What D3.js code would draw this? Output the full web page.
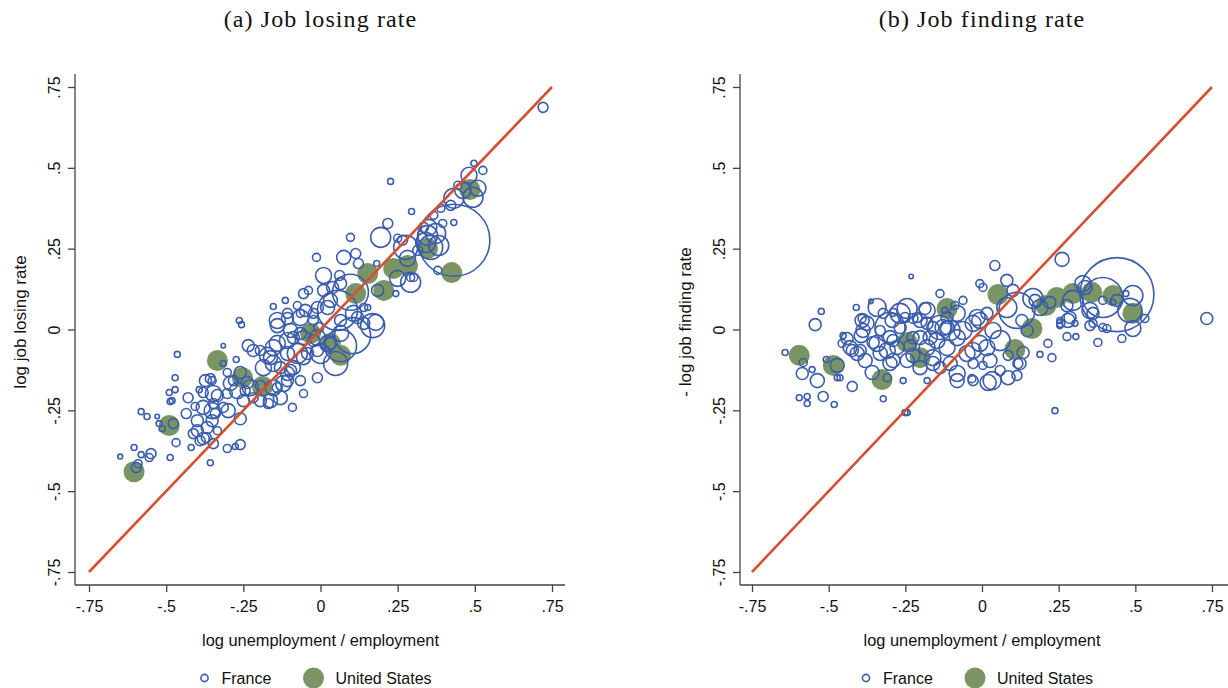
<!DOCTYPE html>
<html>
<head>
<meta charset="utf-8">
<script src="https://cdn.jsdelivr.net/npm/d3@7"></script>
<style>
body { margin: 0; background: #fff; }
text { font-family: "Liberation Sans", Arial, sans-serif; fill: #111; }
.title { font-family: "Liberation Serif", "Times New Roman", serif; }
</style>
</head>
<body>
<div id="chart"></div>
<script>
/* Job losing / job finding rates against log unemployment / employment
   France (hollow, sized by weight) and United States (filled) */

var width = 1228
var height = 688

var ticks = [-0.75, -0.5, -0.25, 0, 0.25, 0.5, 0.75]
var panelTitles = ["(a) Job losing rate", "(b) Job finding rate"]
var yTitles = ["log job losing rate", "- log job finding rate"]
var xTitle = "log unemployment / employment"
var legendLabels = ["France", "United States"]

// France: [log u/e, log job losing rate, weight]
var franceLose = [
  [-0.649,-0.393,6],[-0.604,-0.365,9],[-0.581,-0.387,9],[-0.549,-0.384,25],[-0.555,-0.396,16],
  [-0.591,-0.415,16],[-0.597,-0.427,25],[-0.487,-0.396,9],[-0.581,-0.254,9],[-0.562,-0.269,9],
  [-0.529,-0.269,5],[-0.523,-0.291,9],[-0.513,-0.307,9],[-0.477,-0.291,25],[-0.468,-0.350,16],
  [-0.419,-0.365,9],[-0.357,-0.412,9],[-0.302,-0.368,16],[-0.276,-0.362,9],[-0.260,-0.356,25],
  [-0.487,-0.223,9],[-0.490,-0.195,9],[-0.471,-0.186,9],[-0.471,-0.149,9],[-0.464,-0.077,9],
  [-0.429,-0.211,25],[-0.435,-0.260,25],[-0.406,-0.238,16],[-0.399,-0.282,36],[-0.399,-0.313,36],
  [-0.390,-0.344,25],[-0.370,-0.334,25],[-0.367,-0.303,36],[-0.351,-0.282,36],[-0.341,-0.260,25],
  [-0.347,-0.229,25],[-0.334,-0.204,36],[-0.373,-0.158,36],[-0.380,-0.195,25],[-0.393,-0.186,9],
  [-0.351,-0.158,16],[-0.315,-0.050,5],[-0.315,-0.105,9],[-0.273,-0.093,9],[-0.263,0.028,9],
  [-0.256,0.015,9],[-0.302,-0.198,25],[-0.315,-0.241,25],[-0.299,-0.251,49],[-0.260,-0.276,36],
  [-0.334,-0.313,16],[-0.282,-0.158,25],[-0.260,-0.133,36],[-0.237,-0.164,36],[-0.244,-0.189,25],
  [-0.218,-0.211,25],[-0.195,-0.220,36],[-0.169,-0.229,25],[-0.195,-0.173,25],[-0.234,-0.050,36],
  [-0.091,-0.241,16],[-0.195,-0.065,25],[-0.172,-0.080,64],[-0.140,0.012,49],[-0.153,0.071,9],
  [-0.140,-0.043,64],[-0.107,-0.034,64],[-0.097,-0.127,36],[-0.107,-0.158,36],[-0.140,-0.180,25],
  [-0.130,-0.118,36],[-0.153,-0.105,64],[-0.075,-0.074,100],[-0.065,-0.012,36],[-0.023,0.050,25],
  [-0.006,0.006,25],[-0.065,0.050,16],[-0.042,-0.074,36],[-0.010,-0.065,36],[0.023,0.068,49],
  [0.065,0.028,36],[0.107,0.050,64],[0.169,0.012,144],[0.140,0.068,16],[0.049,-0.105,144],
  [0.065,-0.050,256],[0.065,-0.012,64],[0.023,-0.043,64],[-0.023,-0.034,36],[-0.065,-0.158,25],
  [-0.055,-0.198,16],[-0.010,-0.149,25],[-0.481,-0.220,9],[-0.357,-0.152,25],[-0.347,-0.198,64],
  [-0.380,-0.241,49],[-0.351,-0.251,64],[-0.412,-0.322,25],[-0.380,-0.337,36],[-0.347,-0.353,25],
  [-0.302,-0.133,16],[-0.292,-0.167,49],[-0.269,-0.189,64],[-0.227,-0.180,64],[-0.250,-0.220,36],
  [-0.162,-0.220,49],[-0.130,-0.211,49],[-0.153,-0.180,64],[-0.120,-0.167,64],[-0.185,-0.118,64],
  [-0.162,-0.087,49],[-0.218,-0.065,36],[-0.153,-0.056,64],[-0.107,-0.074,49],[-0.055,-0.087,49],
  [-0.088,-0.118,49],[-0.107,-0.136,49],[-0.088,-0.025,36],[-0.055,-0.025,49],[-0.140,0.028,64],
  [-0.107,0.050,25],[-0.075,0.074,16],[-0.065,0.037,64],[0.000,-0.074,100],[-0.010,-0.025,64],
  [0.032,-0.043,36],[-0.114,0.090,9],[0.497,0.514,9],[0.526,0.492,16],[0.481,0.477,64],
  [0.445,0.446,16],[0.461,0.430,64],[0.432,0.406,100],[0.494,0.409,100],[0.422,0.384,25],
  [0.227,0.458,9],[0.295,0.365,9],[0.390,0.375,16],[0.432,0.331,9],[0.396,0.328,16],
  [0.367,0.353,16],[0.351,0.316,64],[0.347,0.291,100],[0.357,0.254,144],[0.383,0.260,100],
  [0.432,0.276,1296],[0.380,0.183,16],[0.218,0.328,25],[0.195,0.285,100],[0.250,0.282,16],
  [0.266,0.276,25],[0.276,0.254,144],[0.282,0.220,64],[0.292,0.161,16],[0.302,0.161,16],
  [0.292,0.146,100],[0.250,0.158,64],[0.244,0.111,9],[0.185,0.121,36],[0.182,0.204,9],
  [0.097,0.285,16],[0.075,0.223,49],[0.114,0.235,25],[0.123,0.204,25],[0.062,0.167,25],
  [0.010,0.167,64],[-0.013,0.223,16],[0.065,0.142,36],[0.097,0.115,324],[0.039,0.130,36],
  [0.010,0.121,36],[-0.039,0.121,16],[-0.055,0.111,25],[-0.049,0.059,36],[-0.010,0.068,36],
  [0.032,0.090,49],[0.055,0.059,400],[0.104,-0.019,324],[0.153,0.068,9],[0.179,0.022,64],
  [0.140,0.019,36],[0.120,0.037,36],[-0.107,0.034,36],[-0.097,-0.003,49],[-0.023,0.028,25],
  [0.721,0.687,25],[0.373,0.297,100],[0.334,0.316,25],[0.341,0.269,100],[0.315,0.245,25],
  [0.510,0.437,64]
]

// United States: [log u/e, log job losing rate]
var usLose = [
  [-0.604,-0.440],[-0.490,-0.297],[-0.334,-0.096],[-0.253,-0.149],[-0.188,-0.176],
  [-0.032,-0.012],[0.032,-0.043],[0.065,-0.080],[0.114,0.111],[0.153,0.173],
  [0.205,0.121],[0.237,0.189],[0.282,0.198],[0.347,0.251],[0.425,0.176],[0.484,0.433]
]

// France: [log u/e, - log job finding rate, weight]
var franceFind = [
  [-0.231,0.164,5],[-0.137,0.111,16],[-0.088,0.074,16],[-0.362,0.087,5],[-0.410,0.068,9],
  [-0.524,0.056,9],[-0.544,0.015,36],[-0.642,-0.071,9],[-0.453,-0.019,9],[-0.456,-0.043,16],
  [-0.391,0.028,49],[-0.394,-0.019,49],[-0.342,0.068,81],[-0.322,0.050,25],[-0.290,0.053,16],
  [-0.244,0.065,100],[-0.251,0.037,25],[-0.267,0.006,36],[-0.186,0.065,36],[-0.179,0.019,36],
  [-0.160,0.006,36],[-0.225,0.034,25],[-0.332,-0.003,25],[-0.355,-0.040,36],[-0.423,-0.065,36],
  [-0.290,-0.034,36],[-0.225,-0.025,36],[-0.235,-0.050,36],[-0.114,0.006,49],[-0.114,0.037,36],
  [-0.583,-0.102,16],[-0.586,-0.136,36],[-0.554,-0.124,9],[-0.537,-0.158,49],[-0.508,-0.093,9],
  [-0.472,-0.111,49],[-0.472,-0.149,9],[-0.463,-0.149,9],[-0.596,-0.211,9],[-0.570,-0.207,9],
  [-0.570,-0.229,9],[-0.518,-0.207,25],[-0.482,-0.232,9],[-0.423,-0.176,25],[-0.440,-0.028,36],
  [-0.388,-0.003,49],[-0.397,-0.065,36],[-0.381,-0.096,49],[-0.358,-0.133,49],[-0.322,-0.214,9],
  [-0.309,-0.149,16],[-0.257,-0.158,9],[-0.251,-0.257,9],[-0.244,-0.257,9],[-0.267,0.050,100],
  [-0.342,-0.043,64],[-0.309,-0.065,64],[-0.277,-0.056,49],[-0.290,-0.096,49],[-0.244,-0.096,49],
  [-0.202,-0.118,49],[-0.179,-0.158,9],[-0.160,-0.105,49],[-0.179,-0.056,64],[-0.147,-0.034,64],
  [-0.114,-0.056,64],[-0.081,-0.025,64],[-0.127,0.006,64],[-0.202,0.028,49],[-0.062,0.090,16],
  [-0.081,-0.136,64],[-0.029,-0.065,64],[-0.029,-0.105,25],[-0.029,-0.158,25],[0.020,-0.164,64],
  [-0.081,-0.158,49],[-0.007,0.028,64],[0.036,-0.003,64],[0.059,-0.034,100],[0.016,-0.056,64],
  [0.059,-0.127,25],[0.085,-0.149,49],[0.114,-0.142,25],[0.117,-0.105,25],[-0.007,0.142,16],
  [0.003,0.130,16],[0.042,0.198,25],[0.081,0.152,36],[0.261,0.217,49],[0.733,0.034,36],
  [0.238,-0.251,9],[-0.300,0.006,225],[-0.179,0.059,64],[-0.121,0.059,9],[-0.137,0.006,144],
  [-0.104,-0.003,100],[-0.062,-0.003,81],[-0.016,0.037,64],[0.016,0.050,36],[0.081,0.068,100],
  [0.114,0.059,324],[0.130,0.028,36],[0.147,-0.003,36],[0.189,0.068,64],[0.173,0.090,36],
  [0.124,-0.105,36],[0.215,-0.043,16],[0.189,-0.077,9],[0.228,-0.087,16],[0.254,0.028,9],
  [0.254,0.012,9],[0.277,-0.022,16],[0.306,-0.022,9],[0.287,0.037,36],[0.303,0.019,9],
  [0.277,0.074,36],[0.296,0.090,100],[0.336,0.130,49],[0.352,0.059,64],[0.362,0.019,16],
  [0.394,0.099,400],[0.440,0.108,1369],[0.394,0.006,16],[0.407,0.003,16],[0.394,0.090,16],
  [0.427,0.084,9],[0.456,-0.028,16],[0.469,0.111,9],[0.492,0.105,100],[0.482,0.059,144],
  [0.492,0.003,64],[0.531,0.034,16],[0.378,-0.040,16],[0.221,0.084,36],[0.101,0.121,36],
  [0.166,0.096,100],[0.329,0.142,64],[0.352,0.012,25],[0.440,0.090,36],[0.257,0.019,16],
  [0.280,0.028,49],[0.134,-0.071,36],[0.085,-0.080,25],[-0.081,0.050,64],[-0.029,0.019,64],
  [-0.007,-0.043,64],[0.026,-0.096,49],[0.003,-0.111,16],[0.033,-0.158,81],[-0.033,-0.152,16],
  [-0.407,-0.074,49],[-0.430,-0.056,49],[-0.375,0.019,49],[-0.391,0.034,16],[-0.300,-0.025,49],
  [-0.332,-0.074,49],[-0.300,-0.105,49],[-0.225,-0.080,49],[-0.160,-0.087,64],[-0.104,-0.105,49],
  [-0.137,-0.118,36],[-0.169,-0.025,49],[-0.202,-0.025,49],[-0.293,0.028,49],[-0.049,-0.074,64],
  [0.362,0.050,36],[-0.212,0.037,25]
]

// United States: [log u/e, - log job finding rate]
var usFind = [
  [-0.596,-0.080],[-0.485,-0.111],[-0.326,-0.155],[-0.244,-0.040],[-0.202,-0.087],
  [-0.114,0.065],[0.052,0.108],[0.107,-0.062],[0.163,0.003],[0.208,0.074],
  [0.244,0.099],[0.296,0.111],[0.358,0.115],[0.427,0.105],[0.492,0.050]
]

var blue = "#3a5dad"
var green = "#7a9464"
var orange = "#d6502f"
var axisColor = "#444"

var svg = d3.select("#chart")
        .append("svg")
        .attr("width", width)
        .attr("height", height)

// circle size from weight
var size = d3.scaleSqrt().domain([0, 1369]).range([0, 37])

var panels = [
    {left: 75, right: 565, x0: 89, x1: 552, france: franceLose, us: usLose},
    {left: 740, right: 1240, x0: 752, x1: 1212, france: franceFind, us: usFind}
]
var top_y = 74, bottom_y = 585

function fmt(d) {
    if (d === 0) return "0"
    return String(d).replace("0.", ".")
}

panels.forEach(function(p, i) {
    var x = d3.scaleLinear().domain([-0.75, 0.75]).range([p.x0, p.x1])
    var y = d3.scaleLinear().domain([-0.75, 0.75]).range([572, 87])
    var mid = (p.x0 + p.x1) / 2

    var g = svg.append("g")

    // panel title
    g.append("text")
        .attr("class", "title")
        .attr("x", mid)
        .attr("y", 27)
        .attr("text-anchor", "middle")
        .style("font-size", "24px")
        .style("letter-spacing", "1.1px")
        .text(panelTitles[i])

    // x axis
    var xa = g.append("g")
        .attr("transform", "translate(0," + bottom_y + ")")
        .call(d3.axisBottom(x).tickValues(ticks).tickFormat(fmt).tickSize(7).tickSizeOuter(0))
    xa.select(".domain").remove()
    xa.selectAll("line").attr("stroke", axisColor).attr("stroke-width", 1.3)
    xa.selectAll("text").attr("y", 27).attr("dy", null).style("font-size", "16px")
    g.append("line")
        .attr("x1", p.left).attr("x2", p.right)
        .attr("y1", bottom_y).attr("y2", bottom_y)
        .attr("stroke", axisColor).attr("stroke-width", 1.3)

    // y axis, labels turned
    var ya = g.append("g")
        .attr("transform", "translate(" + p.left + ",0)")
        .call(d3.axisLeft(y).tickValues(ticks).tickFormat(fmt).tickSize(7).tickSizeOuter(0))
    ya.select(".domain").remove()
    ya.selectAll("line").attr("stroke", axisColor).attr("stroke-width", 1.3)
    ya.selectAll("text")
        .attr("x", null).attr("dy", null)
        .attr("text-anchor", "middle")
        .attr("transform", "translate(-15,0) rotate(-90)")
        .style("font-size", "16px")
    g.append("line")
        .attr("x1", p.left).attr("x2", p.left)
        .attr("y1", top_y).attr("y2", bottom_y)
        .attr("stroke", axisColor).attr("stroke-width", 1.3)

    // axis titles
    g.append("text")
        .attr("x", mid)
        .attr("y", 646)
        .attr("text-anchor", "middle")
        .style("font-size", "16.4px")
        .text(xTitle)
    g.append("text")
        .attr("transform", "translate(" + (p.left - 49) + "," + 322 + ") rotate(-90)")
        .attr("text-anchor", "middle")
        .style("font-size", "17px")
        .text(yTitles[i])

    // United States underneath
    g.selectAll(".us")
        .data(p.us)
        .enter()
        .append("circle")
        .attr("class", "us")
        .attr("cx", function(d) { return x(d[0]) })
        .attr("cy", function(d) { return y(d[1]) })
        .attr("r", 10.5)
        .attr("fill", green)

    // France hollow circles
    g.selectAll(".fr")
        .data(p.france)
        .enter()
        .append("circle")
        .attr("class", "fr")
        .attr("cx", function(d) { return x(d[0]) })
        .attr("cy", function(d) { return y(d[1]) })
        .attr("r", function(d) { return size(d[2]) })
        .attr("fill", "none")
        .attr("stroke", blue)
        .attr("stroke-width", 1.6)

    // 45 degree line
    g.append("line")
        .attr("x1", x(-0.75)).attr("y1", y(-0.75))
        .attr("x2", x(0.75)).attr("y2", y(0.75))
        .attr("stroke", orange)
        .attr("stroke-width", 2.6)

    // legend
    var lx = mid - 116
    g.append("circle")
        .attr("cx", lx).attr("cy", 678).attr("r", 3.6)
        .attr("fill", "none").attr("stroke", blue).attr("stroke-width", 1.6)
    g.append("text")
        .attr("x", lx + 17).attr("y", 684)
        .style("font-size", "16px")
        .text(legendLabels[0])
    g.append("circle")
        .attr("cx", lx + 109).attr("cy", 678).attr("r", 10.5)
        .attr("fill", green)
    g.append("text")
        .attr("x", lx + 131).attr("y", 684)
        .style("font-size", "16px")
        .text(legendLabels[1])
})
</script>
</body>
</html>
